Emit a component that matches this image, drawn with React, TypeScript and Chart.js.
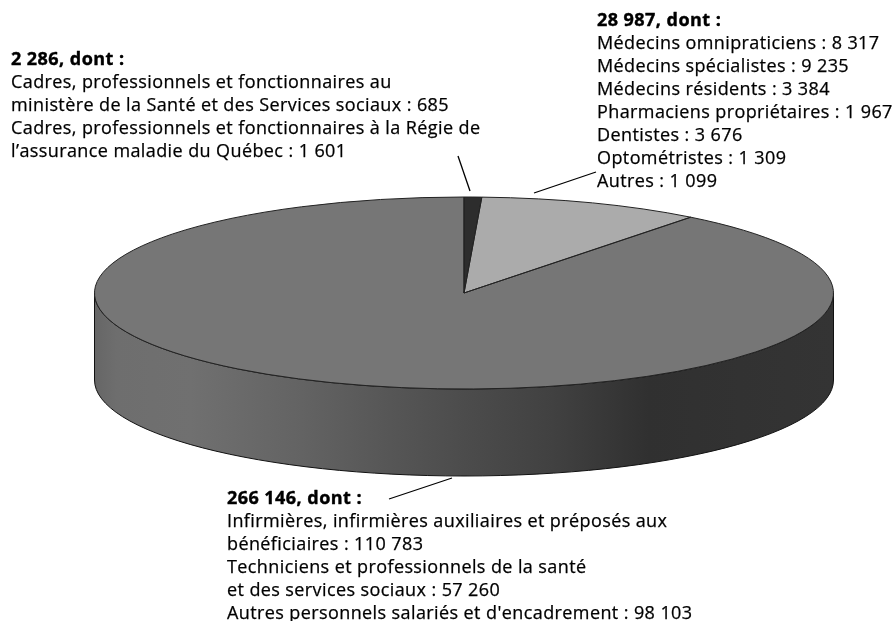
import React, { useEffect, useRef } from "react";
import { Chart, registerables } from "chart.js";

Chart.register(...registerables);

const sliceNames = ["Ministère et Régie", "Médecins et autres professionnels", "Personnel du réseau"];
const sliceValues = [2286, 28987, 266146];
const sliceColors = ["#2d2d2d", "#ababab", "#767676"];

const leftHeading = "2 286, dont :";
const leftLines = [
  "Cadres, professionnels et fonctionnaires au",
  "ministère de la Santé et des Services sociaux : 685",
  "Cadres, professionnels et fonctionnaires à la Régie de",
  "l’assurance maladie du Québec : 1 601",
];
const rightHeading = "28 987, dont :";
const rightLines = [
  "Médecins omnipraticiens : 8 317",
  "Médecins spécialistes : 9 235",
  "Médecins résidents : 3 384",
  "Pharmaciens propriétaires : 1 967",
  "Dentistes : 3 676",
  "Optométristes : 1 309",
  "Autres : 1 099",
];
const bottomHeading = "266 146, dont :";
const bottomLines = [
  "Infirmières, infirmières auxiliaires et préposés aux",
  "bénéficiaires : 110 783",
  "Techniciens et professionnels de la santé",
  "et des services sociaux : 57 260",
  "Autres personnels salariés et d'encadrement : 98 103",
];

const CX = 464, CY = 293, RX = 369.5, RY = 96, DEPTH = 87;
const BODY_FONT = '18px "Open Sans"';
const HEAD_FONT = 'bold 18px "Open Sans"';

const pie3d = {
  id: "pie3d",
  beforeDatasetsDraw(chart: any) {
    const ctx = chart.ctx;
    const arcs = chart.getDatasetMeta(0).data;
    const r = arcs[0].outerRadius;
    const cx = arcs[0].x, cy = arcs[0].y;
    const ell = (oy: number, a: number, b: number, ccw = false) => {
      ctx.save();
      ctx.translate(CX, CY + oy);
      ctx.scale(RX, RY);
      ctx.arc(0, 0, 1, a, b, ccw);
      ctx.restore();
    };
    const g = ctx.createLinearGradient(CX - RX, 0, CX + RX, 0);
    g.addColorStop(0, "#666666");
    g.addColorStop(0.03, "#6e6e6e");
    g.addColorStop(0.13, "#707070");
    g.addColorStop(0.28, "#636363");
    g.addColorStop(0.4, "#565656");
    g.addColorStop(0.5, "#4c4c4c");
    g.addColorStop(0.62, "#414141");
    g.addColorStop(0.75, "#303030");
    g.addColorStop(1, "#343434");
    for (const arc of arcs) {
      const a = Math.max(arc.startAngle, 0);
      const b = Math.min(arc.endAngle, Math.PI);
      if (b <= a) continue;
      ctx.beginPath();
      ell(0, a, b);
      ell(DEPTH, b, a, true);
      ctx.closePath();
      ctx.fillStyle = g;
      ctx.fill();
      ctx.strokeStyle = "#111";
      ctx.lineWidth = 1;
      ctx.stroke();
    }
    ctx.save();
    ctx.translate(CX, CY);
    ctx.scale(RX / r, RY / r);
    ctx.translate(-cx, -cy);
  },
  afterDatasetsDraw(chart: any) {
    const ctx = chart.ctx;
    ctx.restore();
    const arcs = chart.getDatasetMeta(0).data;
    ctx.strokeStyle = "#222";
    ctx.lineWidth = 1;
    for (const arc of arcs) {
      ctx.beginPath();
      ctx.moveTo(CX, CY);
      ctx.save();
      ctx.translate(CX, CY);
      ctx.scale(RX, RY);
      ctx.arc(0, 0, 1, arc.startAngle, arc.endAngle);
      ctx.restore();
      ctx.closePath();
      ctx.stroke();
    }
    // leader lines
    ctx.strokeStyle = "#000";
    ctx.lineWidth = 1.3;
    const leaders = [
      [458, 156, 470, 191],
      [534, 193, 596, 172],
      [389, 499, 452, 478],
    ];
    for (const [x1, y1, x2, y2] of leaders) {
      ctx.beginPath();
      ctx.moveTo(x1, y1);
      ctx.lineTo(x2, y2);
      ctx.stroke();
    }
    // text blocks
    const block = (x: number, y: number, head: string, lines: string[]) => {
      ctx.fillStyle = "#000";
      ctx.strokeStyle = "#000";
      ctx.lineJoin = "round";
      ctx.textAlign = "left";
      ctx.textBaseline = "alphabetic";
      ctx.font = HEAD_FONT;
      ctx.letterSpacing = "0.45px";
      ctx.lineWidth = 0.4;
      ctx.fillText(head, x, y);
      ctx.strokeText(head, x, y);
      ctx.font = BODY_FONT;
      ctx.letterSpacing = "0.4px";
      ctx.lineWidth = 0.25;
      lines.forEach((l, i) => {
        ctx.fillText(l, x, y + 23 * (i + 1));
        ctx.strokeText(l, x, y + 23 * (i + 1));
      });
      ctx.letterSpacing = "0px";
    };
    block(11, 65, leftHeading, leftLines);
    block(597, 26, rightHeading, rightLines);
    block(227, 504, bottomHeading, bottomLines);
  },
};

export default function App() {
  const ref = useRef<HTMLCanvasElement>(null);
  useEffect(() => {
    document.body.style.margin = "0";
    document.body.style.background = "#fff";
    const chart = new Chart(ref.current!, {
      type: "pie",
      data: {
        labels: sliceNames,
        datasets: [{ data: sliceValues, backgroundColor: sliceColors, borderWidth: 0 }],
      },
      options: {
        responsive: false,
        animation: false,
        plugins: { legend: { display: false }, tooltip: { enabled: false } },
      },
      plugins: [pie3d],
    } as any);
    return () => chart.destroy();
  }, []);
  return (
    <div style={{ position: "absolute", left: 0, top: 0, width: 896, height: 621 }}>
      <canvas ref={ref} width={896} height={621} style={{ display: "block" }} />
    </div>
  );
}
